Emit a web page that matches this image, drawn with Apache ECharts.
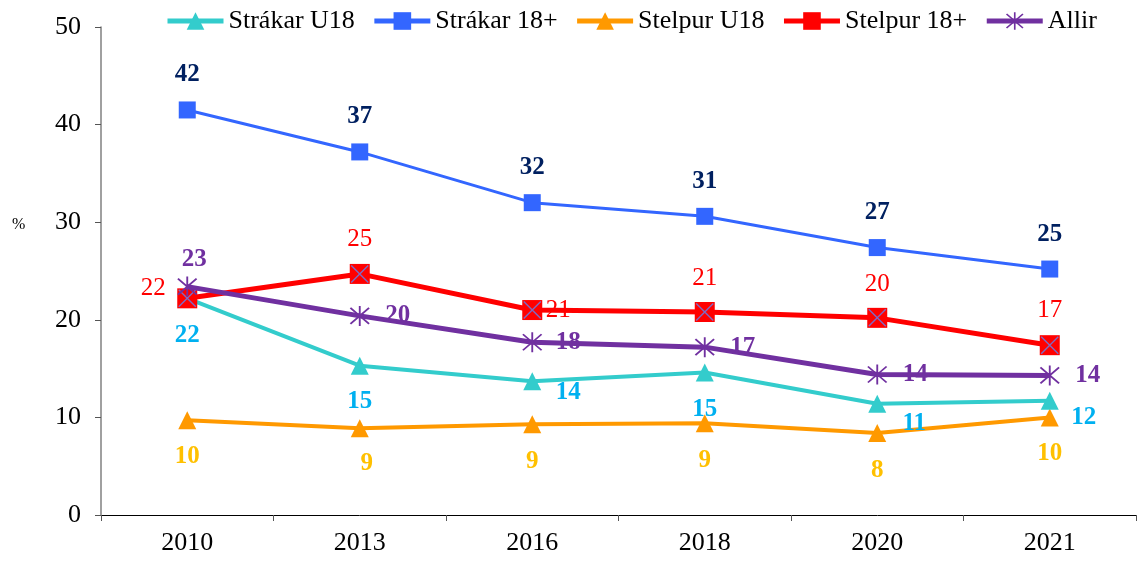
<!DOCTYPE html>
<html>
<head>
<meta charset="utf-8">
<script src="https://cdn.jsdelivr.net/npm/echarts@6/dist/echarts.min.js"></script>
<style>
html,body{margin:0;padding:0;background:#fff;}
#chart{width:1138px;height:561px;}
</style>
</head>
<body>
<div id="chart"></div>
<script>
var years = ['2010', '2013', '2016', '2018', '2020', '2021'];
var strakarU18 = [22.2, 15.3, 13.7, 14.6, 11.4, 11.7];
var strakar18 = [41.5, 37.2, 32.0, 30.6, 27.4, 25.2];
var stelpurU18 = [9.7, 8.9, 9.3, 9.4, 8.4, 10.0];
var stelpur18 = [22.2, 24.7, 21.0, 20.8, 20.2, 17.4];
var allir = [23.4, 20.4, 17.7, 17.2, 14.4, 14.3];
var yTicks = [0, 10, 20, 30, 40, 50];

// label offsets (px from the point) per series
var offStrakarU18 = [[0, 37], [0, 36], [36, 11], [0, 37], [37, 20], [34, 17]];
var offStrakar18 = [[0, -35], [0, -35], [0, -35], [0, -35], [0, -35], [0, -35]];
var offStelpurU18 = [[0, 36], [7, 35], [0, 37], [0, 37], [0, 38], [0, 36]];
var offStelpur18 = [[-34, -10], [0, -34], [26, 0], [0, -34], [0, -33], [0, -35]];
var offAllir = [[7, -27], [38, 0], [36, 0], [38, 0], [38, 0], [38, 0]];

var font = '"Liberation Serif", "Times New Roman", serif';
var asterisk = 'path://M9.2,0L10.8,0L10.8,20L9.2,20Z M2.57,1.43L18.57,17.43L17.43,18.57L1.43,2.57Z M17.43,1.43L18.57,2.57L2.57,18.57L1.43,17.43Z';
var cross = 'path://M1.1,0L20,18.9L18.9,20L0,1.1Z M18.9,0L20,1.1L1.1,20L0,18.9Z';

function build(values, offsets, color, bold) {
    return values.map(function (v, i) {
        return {
            value: v,
            label: {
                show: true,
                position: 'inside',
                offset: offsets[i],
                color: color,
                fontFamily: font,
                fontSize: 25,
                fontWeight: bold ? 'bold' : 'normal',
                formatter: function (p) { return Math.round(p.value); }
            }
        };
    });
}

var myChart = echarts.init(document.getElementById('chart'));
var option = {
    backgroundColor: '#fff',
    animation: false,
    legend: {
        data: ['Strákar U18', 'Strákar 18+', 'Stelpur U18', 'Stelpur 18+', 'Allir'],
        top: 3,
        left: 160,
        itemWidth: 56,
        itemHeight: 22,
        itemGap: 17,
        lineStyle: { width: 5 },
        textStyle: { fontFamily: font, fontSize: 26, color: '#000' }
    },
    graphic: [{
        type: 'text',
        left: 12,
        top: 217,
        style: { text: '%', font: '16px ' + font, fill: '#000' }
    }],
    grid: { left: 101, right: 2, top: 27, bottom: 46 },
    xAxis: {
        type: 'category',
        data: years,
        boundaryGap: true,
        axisLine: { lineStyle: { color: '#000', width: 1 } },
        axisTick: { show: true, length: 6, lineStyle: { color: '#555' } },
        axisLabel: { fontFamily: font, fontSize: 26, color: '#000', margin: 15 },
        splitLine: { show: false }
    },
    yAxis: {
        type: 'value',
        min: 0,
        max: 50,
        interval: 10,
        axisLine: { show: true, lineStyle: { color: '#808080', width: 1.5 } },
        axisTick: { show: true, length: 6, lineStyle: { color: '#555' } },
        axisLabel: {
            fontFamily: font, fontSize: 26, color: '#000', margin: 20,
            formatter: function (v) { return yTicks.indexOf(v) >= 0 ? v : ''; }
        },
        splitLine: { show: false }
    },
    series: [
        {
            name: 'Stelpur U18', type: 'line', data: build(stelpurU18, offStelpurU18, '#FFC000', true),
            symbol: 'triangle', symbolSize: 18,
            itemStyle: { color: '#FF9900' }, lineStyle: { color: '#FF9900', width: 4 }, z: 2
        },
        {
            name: 'Strákar U18', type: 'line', data: build(strakarU18, offStrakarU18, '#00B0F0', true),
            symbol: 'triangle', symbolSize: 18,
            itemStyle: { color: '#33CCCC' }, lineStyle: { color: '#33CCCC', width: 4 }, z: 3
        },
        {
            name: 'Strákar 18+', type: 'line', data: build(strakar18, offStrakar18, '#002060', true),
            symbol: 'rect', symbolSize: 17,
            itemStyle: { color: '#3366FF' }, lineStyle: { color: '#3366FF', width: 3 }, z: 4
        },
        {
            name: 'Stelpur 18+', type: 'line', data: build(stelpur18, offStelpur18, '#FF0000', false),
            symbol: 'rect', symbolSize: 20,
            itemStyle: { color: '#FF0000' }, lineStyle: { color: '#FF0000', width: 5 }, z: 5
        },
        {
            name: 'Stelpur 18+ x', type: 'line', data: stelpur18,
            symbol: cross, symbolSize: 18, silent: true,
            itemStyle: { color: '#7E6BC4' }, lineStyle: { width: 0, opacity: 0 }, z: 6,
            label: { show: false }
        },
        {
            name: 'Allir', type: 'line', data: build(allir, offAllir, '#7030A0', true),
            symbol: asterisk, symbolSize: 20,
            itemStyle: { color: '#7030A0' }, lineStyle: { color: '#7030A0', width: 5 }, z: 7
        }
    ]
};
myChart.setOption(option);
</script>
</body>
</html>
